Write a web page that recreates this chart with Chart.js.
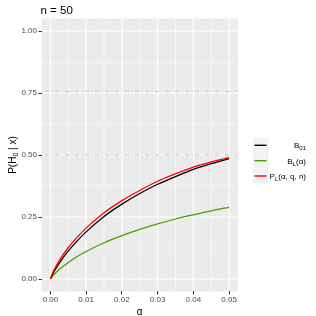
<!DOCTYPE html>
<html>
<head>
<meta charset="utf-8">
<script src="https://cdn.jsdelivr.net/npm/chart.js@4/dist/chart.umd.min.js"></script>
<style>
  html, body { margin: 0; padding: 0; background: #ffffff; }
  #c { display: block; }
</style>
</head>
<body>
<canvas id="c" width="316" height="316" style="width:316px;height:316px"></canvas>
<script>
// ---- data ----
const alphaValues = [0, 0.0005, 0.001, 0.0025, 0.005, 0.0075, 0.01, 0.015, 0.02, 0.025, 0.03, 0.035, 0.04, 0.045, 0.05];
const b01Values   = [0, 0.015, 0.029, 0.064, 0.113, 0.154, 0.190, 0.252, 0.302, 0.345, 0.382, 0.413, 0.442, 0.465, 0.485];
const bLValues    = [0, 0.010, 0.018, 0.039, 0.067, 0.091, 0.111, 0.146, 0.175, 0.200, 0.222, 0.242, 0.259, 0.275, 0.289];
const pLValues    = [0, 0.020, 0.036, 0.075, 0.127, 0.169, 0.205, 0.267, 0.316, 0.357, 0.394, 0.424, 0.451, 0.472, 0.489];
const xTickValues = [0, 0.01, 0.02, 0.03, 0.04, 0.05];
const yTickValues = [0, 0.25, 0.5, 0.75, 1.0];
const xMinorValues = [0.005, 0.015, 0.025, 0.035, 0.045];
const yMinorValues = [0.125, 0.375, 0.625, 0.875];
const refLineValues = [0.5, 0.757];
const seriesNames = ["B01", "BL(α)", "PL(α, q, n)"];
const titleText = "n = 50";

const COL_BLACK = "#000000", COL_GREEN = "#4E9A06", COL_RED = "#FF0000";
const FONT = "'Liberation Sans', Arial, sans-serif";

function pts(ys) { return alphaValues.map((a, i) => ({ x: a, y: ys[i] })); }

const ds = (label, ys, color, order) => ({
  label, data: pts(ys), borderColor: color, backgroundColor: color,
  borderWidth: 1.25, pointRadius: 0, fill: false, cubicInterpolationMode: 'monotone', order
});

function richWidth(ctx, parts, size, subSize) {
  let w = 0;
  for (const [t, sub] of parts) { ctx.font = (sub ? subSize : size) + "px " + FONT; w += ctx.measureText(t).width; }
  return w;
}
function drawRich(ctx, parts, x, y, size, subSize, subShift) {
  for (const [t, sub] of parts) {
    ctx.font = (sub ? subSize : size) + "px " + FONT;
    ctx.fillText(t, x, y + (sub ? subShift : 0));
    x += ctx.measureText(t).width;
  }
}

const decor = {
  id: 'decor',
  beforeDraw(chart) {
    const { ctx, chartArea: a, scales: { x, y } } = chart;
    ctx.save();
    ctx.fillStyle = "#ffffff";
    ctx.fillRect(0, 0, chart.width, chart.height);
    ctx.fillStyle = "#EBEBEB";
    ctx.fillRect(a.left, a.top, a.right - a.left, a.bottom - a.top);
    ctx.strokeStyle = "#ffffff";
    ctx.lineWidth = 0.55;
    for (const v of yMinorValues) { const p = y.getPixelForValue(v); ctx.beginPath(); ctx.moveTo(a.left, p); ctx.lineTo(a.right, p); ctx.stroke(); }
    for (const v of xMinorValues) { const p = x.getPixelForValue(v); ctx.beginPath(); ctx.moveTo(p, a.top); ctx.lineTo(p, a.bottom); ctx.stroke(); }
    ctx.lineWidth = 1.1;
    for (const v of yTickValues) { const p = y.getPixelForValue(v); ctx.beginPath(); ctx.moveTo(a.left, p); ctx.lineTo(a.right, p); ctx.stroke(); }
    for (const v of xTickValues) { const p = x.getPixelForValue(v); ctx.beginPath(); ctx.moveTo(p, a.top); ctx.lineTo(p, a.bottom); ctx.stroke(); }
    ctx.strokeStyle = "#C4C4C4";
    ctx.lineWidth = 1.1;
    ctx.setLineDash([1, 2.5, 4, 2.5]);
    for (const v of refLineValues) { const p = y.getPixelForValue(v); ctx.beginPath(); ctx.moveTo(a.left, p); ctx.lineTo(a.right, p); ctx.stroke(); }
    ctx.setLineDash([]);
    ctx.restore();
  },
  afterDraw(chart) {
    const { ctx, chartArea: a } = chart;
    ctx.save();
    ctx.fillStyle = "#000000";
    ctx.textBaseline = "alphabetic";
    ctx.textAlign = "left";
    ctx.font = "11.5px " + FONT;
    ctx.fillText(titleText, a.left - 1, 14);
    ctx.textAlign = "center";
    ctx.font = "10px " + FONT;
    ctx.fillText("α", (a.left + a.right) / 2, 315);
    ctx.textAlign = "left";
    const yParts = [["P(H", false], ["0", true], [" | x)", false]];
    ctx.save();
    ctx.translate(15.5, (a.top + a.bottom) / 2);
    ctx.rotate(-Math.PI / 2);
    const yw = richWidth(ctx, yParts, 10, 7);
    drawRich(ctx, yParts, -yw / 2, 0, 10, 7, 2.5);
    ctx.restore();
    const rows = [145.3, 160.7, 176];
    const colors = [COL_BLACK, COL_GREEN, COL_RED];
    const labels = [
      [["B", false], ["01", true]],
      [["B", false], ["L", true], ["(α)", false]],
      [["P", false], ["L", true], ["(α, q, n)", false]]
    ];
    for (let i = 0; i < 3; i++) {
      const cy = rows[i];
      ctx.fillStyle = "#F2F2F2";
      ctx.fillRect(253, cy - 7.5, 15.5, 15);
      ctx.strokeStyle = colors[i];
      ctx.lineWidth = 1.4;
      ctx.beginPath(); ctx.moveTo(254.5, cy); ctx.lineTo(266.5, cy); ctx.stroke();
      ctx.fillStyle = "#000000";
      const w = richWidth(ctx, labels[i], 8, 6);
      drawRich(ctx, labels[i], 306 - w, cy + 2.8, 8, 6, 2);
    }
    ctx.restore();
  }
};

new Chart(document.getElementById('c'), {
  type: 'line',
  data: {
    datasets: [
      ds(seriesNames[1], bLValues, COL_GREEN, 3),
      ds(seriesNames[0], b01Values, COL_BLACK, 2),
      ds(seriesNames[2], pLValues, COL_RED, 1)
    ]
  },
  options: {
    responsive: false,
    animation: false,
    devicePixelRatio: 1,
    layout: { padding: { top: 18.6, right: 78, bottom: 0, left: 0 } },
    plugins: { legend: { display: false }, title: { display: false }, tooltip: { enabled: false } },
    scales: {
      x: {
        type: 'linear', min: -0.0025, max: 0.0525,
        afterBuildTicks: s => { s.ticks = xTickValues.map(v => ({ value: v })); },
        afterFit: s => { s.height = 24.6; },
        ticks: { callback: v => Number(v).toFixed(2), font: { size: 8, family: FONT }, color: '#4D4D4D', padding: 1, maxRotation: 0, autoSkip: false },
        grid: { drawOnChartArea: false, drawTicks: true, tickLength: 3, tickColor: '#333333' },
        border: { display: false }
      },
      y: {
        type: 'linear', min: -0.05, max: 1.05,
        afterBuildTicks: s => { s.ticks = yTickValues.map(v => ({ value: v })); },
        afterFit: s => { s.width = 41.5; },
        ticks: { callback: v => Number(v).toFixed(2), font: { size: 8, family: FONT }, color: '#4D4D4D', padding: 1.5, autoSkip: false },
        grid: { drawOnChartArea: false, drawTicks: true, tickLength: 3, tickColor: '#333333' },
        border: { display: false }
      }
    }
  },
  plugins: [decor]
});
</script>
</body>
</html>
